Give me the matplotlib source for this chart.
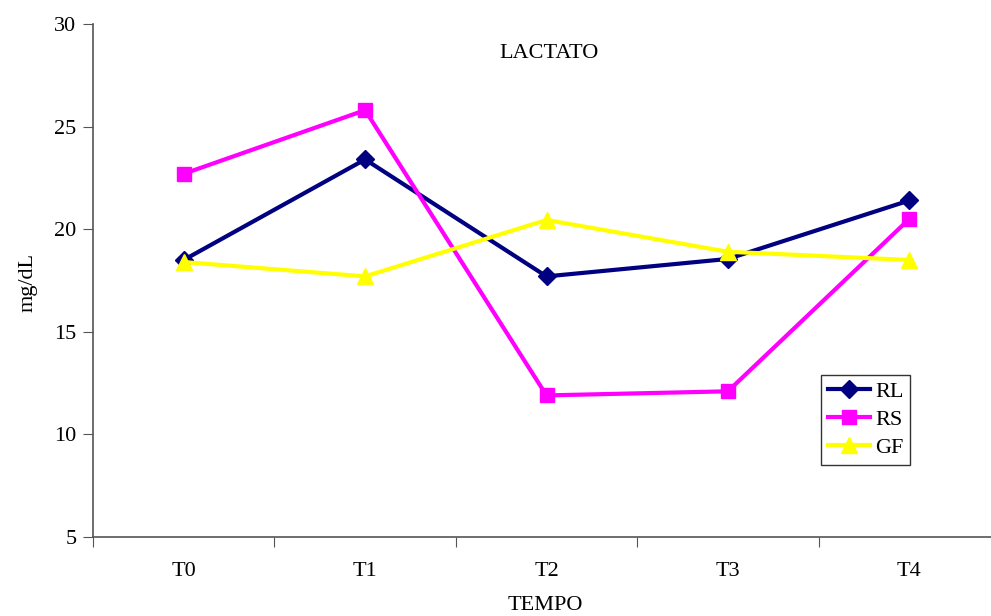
import numpy as np
import matplotlib
matplotlib.use("Agg")
import matplotlib.pyplot as plt
from matplotlib.ticker import FixedLocator, NullFormatter

plt.rcParams["font.family"] = ["Liberation Serif", "DejaVu Serif"]

# ---------------- DATA ----------------
categories = ["T0", "T1", "T2", "T3", "T4"]
rl = [18.5, 23.4, 17.7, 18.55, 21.4]
rs = [22.7, 25.8, 11.9, 12.1, 20.5]
gf = [18.4, 17.7, 20.45, 18.9, 18.5]

# ---------------- FIGURE ----------------
fig = plt.figure(figsize=(9.91, 6.16), dpi=100)
# axes reaches a bit past the right edge, like the cropped original
ax = fig.add_axes([93 / 991, 1 - 537 / 616, 907 / 991, 513 / 616])

x = np.arange(len(categories))
ax.plot(x, rl, color="#000080", lw=3, marker="D", ms=9, label="RL", clip_on=False)
ax.plot(x, rs, color="#FF00FF", lw=3, marker="s", ms=10, label="RS", clip_on=False)
ax.plot(x, gf, color="#FFFF00", lw=3, marker="^", ms=11, label="GF", clip_on=False)

ax.set_xlim(-0.5, len(categories) - 0.5)
ax.set_ylim(5, 30)
ax.set_yticks([5, 10, 15, 20, 25, 30])

# ticks at category boundaries, labels at centres
ax.xaxis.set_major_locator(FixedLocator(np.arange(-0.5, len(categories), 1.0)))
ax.xaxis.set_major_formatter(NullFormatter())
ax.xaxis.set_minor_locator(FixedLocator(x))
ax.set_xticklabels(categories, minor=True)
ax.tick_params(axis="x", which="minor", length=0, pad=18, labelsize=16)
ax.tick_params(axis="x", which="major", length=7, direction="out", color="#555555")
ax.tick_params(axis="y", length=7, direction="out", labelsize=16, pad=5, color="#555555")

for side in ["top", "right"]:
    ax.spines[side].set_visible(False)
for side in ["left", "bottom"]:
    ax.spines[side].set_color("#555555")
    ax.spines[side].set_linewidth(1.2)

ax.set_ylabel("mg/dL", fontsize=16)
ax.yaxis.set_label_coords(-(93 - 28) / 907, (537 - 282) / 513)
ax.yaxis.label.set_va("center")
ax.set_xlabel("TEMPO", fontsize=16)
ax.xaxis.set_label_coords((545 - 93) / 907, -(605 - 537) / 513)
ax.xaxis.label.set_va("center")
ax.text((549 - 93) / 907, (537 - 53) / 513, "LACTATO", transform=ax.transAxes,
        ha="center", va="center", fontsize=16)

leg = ax.legend(loc="upper left", bbox_to_anchor=((821 - 93) / 907, (537 - 375) / 513),
                fontsize=16, frameon=True, fancybox=False, handlelength=1.9,
                handletextpad=0.25, borderpad=0.3, labelspacing=0.33, borderaxespad=0)
leg.get_frame().set_edgecolor("black")
leg.get_frame().set_linewidth(1.0)

fig.savefig("out.png", dpi=100)
